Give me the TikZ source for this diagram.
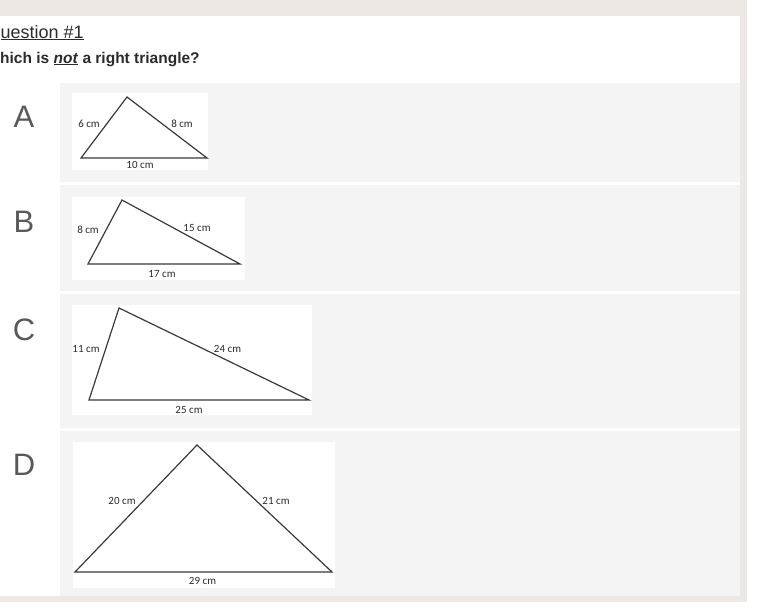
\documentclass[tikz,border=0pt]{standalone}
\usepackage{fontspec}
\setmainfont{Liberation Sans}
\newfontfamily\calfont{Carlito}
\definecolor{framebeige}{HTML}{EDE8E4}
\definecolor{rowgray}{HTML}{F4F4F4}
\definecolor{lettergray}{HTML}{595959}
\definecolor{ink}{HTML}{2B2B2B}
\definecolor{triline}{HTML}{3A3A3A}
\begin{document}
\begin{tikzpicture}[x=1pt,y=-1pt,
  rowbox/.style={fill=rowgray,draw=none},
  imgbox/.style={fill=white,draw=none},
  tri/.style={draw=triline,line width=1.2pt,line join=miter},
  choice/.style={font=\fontsize{31}{34}\selectfont,text=lettergray,inner sep=0,anchor=base},
  sidelbl/.style={font=\calfont\fontsize{11}{13}\selectfont,text=ink,inner sep=0}]
\useasboundingbox (0,0) rectangle (760,611);
\fill[white] (0,0) rectangle (760,611);
\fill[framebeige] (0,0) rectangle (747,602);
\fill[white] (0,16) rectangle (740,596);
% header
\node[anchor=base west,inner sep=0,text=ink,font=\fontsize{18}{20}\selectfont] (title) at (0.5,38) {\underline{uestion \#1}};
\node[anchor=base west,inner sep=0,text=ink,font=\bfseries\fontsize{15.5}{18}\selectfont] (prompt) at (0,63) {hich is \underline{\textit{not}} a right triangle?};
% rows
\fill[rowbox] (60,83) rectangle (740,182);
\fill[rowbox] (60,185) rectangle (740,291);
\fill[rowbox] (60,294) rectangle (740,428);
\fill[rowbox] (60,431) rectangle (740,596);
% letters
\node[choice] (la) at (24,127) {A};
\node[choice] (lb) at (24,232) {B};
\node[choice] (lc) at (24,340) {C};
\node[choice] (ld) at (24,475) {D};
% image boxes
\fill[imgbox] (72,93) rectangle (208,170);
\fill[imgbox] (72,197) rectangle (245,280);
\fill[imgbox] (72,305) rectangle (312,415);
\fill[imgbox] (73,442) rectangle (335,588);
% triangle A
\coordinate (a1) at (127,97); \coordinate (a2) at (81,158); \coordinate (a3) at (207,158);
\draw[tri] (a1) -- (a2) -- (a3) -- cycle;
\node[sidelbl] (a12) at (89,124) {6 cm};
\node[sidelbl] (a13) at (182,124) {8 cm};
\node[sidelbl] (a23) at (140,165) {10 cm};
% triangle B
\coordinate (b1) at (122,200); \coordinate (b2) at (88,264); \coordinate (b3) at (240,264);
\draw[tri] (b1) -- (b2) -- (b3) -- cycle;
\node[sidelbl] (b12) at (88,230) {8 cm};
\node[sidelbl] (b13) at (197,228) {15 cm};
\node[sidelbl] (b23) at (162,274) {17 cm};
% triangle C
\coordinate (c1) at (119,308); \coordinate (c2) at (89,400); \coordinate (c3) at (309,400);
\draw[tri] (c1) -- (c2) -- (c3) -- cycle;
\node[sidelbl] (c12) at (86,349) {11 cm};
\node[sidelbl] (c13) at (227.5,349) {24 cm};
\node[sidelbl] (c23) at (189,409.5) {25 cm};
% triangle D
\coordinate (d1) at (197,445); \coordinate (d2) at (75,572); \coordinate (d3) at (332,572);
\draw[tri] (d1) -- (d2) -- (d3) -- cycle;
\node[sidelbl] (d12) at (122,500.5) {20 cm};
\node[sidelbl] (d13) at (276,500.5) {21 cm};
\node[sidelbl] (d23) at (202.5,580.5) {29 cm};
\end{tikzpicture}
\end{document}
